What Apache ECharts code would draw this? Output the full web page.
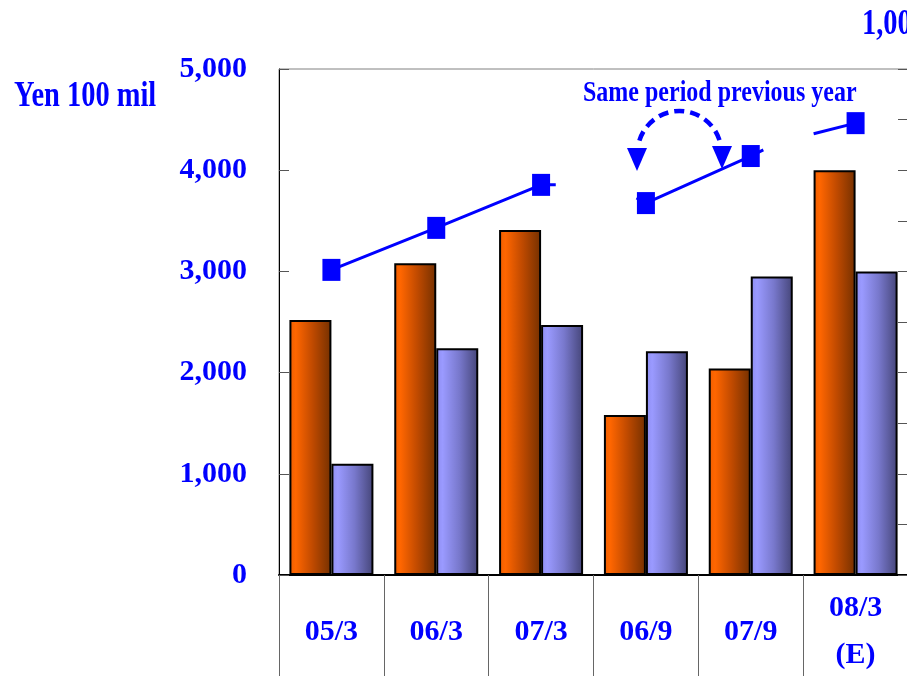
<!DOCTYPE html>
<html>
<head>
<meta charset="utf-8">
<script src="https://cdn.jsdelivr.net/npm/echarts@6/dist/echarts.min.js"></script>
<style>
html,body{margin:0;padding:0;background:#fff;}
#chart{width:907px;height:676px;}
</style>
</head>
<body>
<div id="chart"></div>
<script>
// ---- data ----
const categories = ['05/3', '06/3', '07/3', '06/9', '07/9', '08/3\n(E)'];
const orangeValues = [2520, 3080, 3410, 1580, 2040, 4000];
const blueValues = [1100, 2240, 2470, 2210, 2950, 3000];
const lineValues = [603, 686, 771, 735, 828, 893];
const leftTicks = [0, 1000, 2000, 3000, 4000, 5000];
// short connector ends of the line segments: [category position, value]
const stubAfter073 = [2.64, 771];
const stubBefore069 = [3.41, 745];
const stubAfter079 = [4.62, 840];
const stubBefore083 = [5.10, 872];

const BLUE = '#0000FF';
const FONT = '"Liberation Serif", "Times New Roman", serif';

function pt(i) { return { value: [i + 0.5, lineValues[i]] }; }
function stub(p) { return { value: p, symbol: 'none' }; }

const chart = echarts.init(document.getElementById('chart'));

const lineStyle = { color: BLUE, width: 3 };
const lineBase = {
  type: 'line', xAxisIndex: 1, yAxisIndex: 1,
  symbol: 'rect', symbolSize: [18, 22],
  itemStyle: { color: BLUE },
  lineStyle: lineStyle,
  z: 5, silent: true, animation: false
};

chart.setOption({
  animation: false,
  backgroundColor: '#fff',
  grid: {
    left: 279, top: 69, width: 629, bottom: 101,
    outerBoundsMode: 'none',
    show: true, borderColor: '#808080', borderWidth: 1, containLabel: false
  },
  xAxis: [{
    type: 'category', data: categories, boundaryGap: true,
    axisLine: { lineStyle: { color: '#000', width: 2 } },
    axisTick: { show: true, length: 101, interval: 0, lineStyle: { color: '#666', width: 1 } },
    axisLabel: {
      interval: 0, color: BLUE, fontFamily: FONT, fontWeight: 'bold', fontSize: 30,
      margin: 57, verticalAlign: 'middle', lineHeight: 47
    },
    splitLine: { show: false }
  }, {
    type: 'value', min: 0, max: 6, show: false
  }],
  yAxis: [{
    type: 'value', min: leftTicks[0], max: leftTicks[leftTicks.length - 1], interval: 1000,
    axisLine: { show: true, lineStyle: { color: '#000', width: 1 } },
    axisTick: { show: true, inside: true, length: 10, lineStyle: { color: '#555' } },
    axisLabel: {
      color: BLUE, fontFamily: FONT, fontWeight: 'bold', fontSize: 30, margin: 32,
      padding: [5, 0, 0, 0],
      formatter: v => v.toLocaleString('en-US')
    },
    splitLine: { show: false }
  }, {
    type: 'value', min: 0, max: 1000, interval: 100, position: 'right',
    axisLine: { show: true, lineStyle: { color: '#000', width: 1 } },
    axisTick: { show: true, inside: true, length: 10, lineStyle: { color: '#555' } },
    axisLabel: { show: false },
    splitLine: { show: false }
  }],
  series: [{
    type: 'bar', data: orangeValues, barWidth: 42, barGap: '0%',
    itemStyle: {
      borderColor: '#000', borderWidth: 2,
      color: new echarts.graphic.LinearGradient(0, 0, 1, 0, [
        { offset: 0, color: '#EE5E00' },
        { offset: 0.15, color: '#FF6600' },
        { offset: 0.55, color: '#C04A00' },
        { offset: 1, color: '#743000' }
      ])
    }
  }, {
    type: 'bar', data: blueValues, barWidth: 42, barGap: '0%',
    itemStyle: {
      borderColor: '#000', borderWidth: 2,
      color: new echarts.graphic.LinearGradient(0, 0, 1, 0, [
        { offset: 0, color: '#8E8EF0' },
        { offset: 0.15, color: '#9A9AFF' },
        { offset: 0.55, color: '#7878CC' },
        { offset: 1, color: '#454578' }
      ])
    }
  },
  Object.assign({}, lineBase, { data: [pt(0), pt(1), pt(2), stub(stubAfter073)] }),
  Object.assign({}, lineBase, { data: [stub(stubBefore069), pt(3), pt(4), stub(stubAfter079)] }),
  Object.assign({}, lineBase, { data: [stub(stubBefore083), pt(5)] })
  ],
  graphic: [{
    type: 'text', x: 14, y: 97, scaleX: 0.79,
    style: { text: 'Yen 100 mil', fill: BLUE, font: 'bold 36px ' + FONT, align: 'left', verticalAlign: 'middle' }
  }, {
    type: 'text', x: 862, y: 25, scaleX: 0.79,
    style: { text: '1,000', fill: BLUE, font: 'bold 36px ' + FONT, align: 'left', verticalAlign: 'middle' }
  }, {
    type: 'text', x: 583, y: 93, scaleX: 0.8,
    style: { text: 'Same period previous year', fill: BLUE, font: 'bold 30px ' + FONT, align: 'left', verticalAlign: 'middle' }
  }, {
    type: 'arc', z: 10,
    shape: { cx: 679.5, cy: 153, r: 42, startAngle: Math.PI + 0.3, endAngle: 2 * Math.PI - 0.3, clockwise: true },
    style: { stroke: BLUE, lineWidth: 4.5, lineDash: [10, 6], fill: null }
  }, {
    type: 'polygon', z: 10,
    shape: { points: [[627, 148], [647, 148], [637, 171]] },
    style: { fill: BLUE }
  }, {
    type: 'polygon', z: 10,
    shape: { points: [[712, 146], [732, 146], [722, 169]] },
    style: { fill: BLUE }
  }]
});
</script>
</body>
</html>
